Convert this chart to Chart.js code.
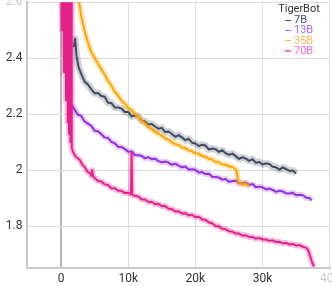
<!DOCTYPE html>
<html>
<head>
<meta charset="utf-8">
<script src="https://cdn.jsdelivr.net/npm/chart.js@4.4.1/dist/chart.umd.min.js"></script>
<style>
  html, body { margin: 0; padding: 0; width: 332px; height: 286px; overflow: hidden; background: #fff; }
  #chart { position: absolute; left: 0; top: -12px; }
  #legend { position: absolute; left: 276px; top: 4px; width: 46px; font: 11px Roboto, sans-serif; line-height: 10.2px; }
  #legend .title { text-align: center; color: #333; margin-bottom: 1px; }
  #legend .item { padding-left: 9px; white-space: nowrap; }
  #legend .dash { display: inline-block; width: 6px; height: 1.5px; vertical-align: middle; margin-right: 3px; }
</style>
</head>
<body>
<canvas id="chart" width="350" height="298"></canvas>
<div id="legend"></div>
<script>
// step / loss pairs
const steps7B = [1900, 2100, 2300, 2600, 3000, 3500, 4000, 4500, 5000, 5500, 6000, 6500, 7000, 7500, 8000, 8500, 9000, 9500,
  10000, 10500, 11000, 11500, 12000, 12500, 13000, 13500, 14000, 14500, 15000, 15500, 16000, 16500, 17000, 17500, 18000, 18500,
  19000, 19500, 20000, 20500, 21000, 21500, 22000, 22500, 23000, 23500, 24000, 24500, 25000, 25500, 26000, 26500, 27000, 27500,
  28000, 28500, 29000, 29500, 30000, 30500, 31000, 31500, 32000, 32500, 33000, 33500, 34000, 34500, 35000];
const loss7B = [2.44, 2.47, 2.41, 2.37, 2.344, 2.317, 2.306, 2.289, 2.275, 2.276, 2.265, 2.262, 2.241, 2.24, 2.224, 2.224, 2.22, 2.208,
  2.208, 2.192, 2.195, 2.192, 2.177, 2.174, 2.163, 2.165, 2.156, 2.148, 2.151, 2.136, 2.138, 2.129, 2.119, 2.125, 2.117, 2.107,
  2.112, 2.098, 2.095, 2.086, 2.091, 2.088, 2.074, 2.077, 2.075, 2.065, 2.071, 2.06, 2.055, 2.059, 2.05, 2.04, 2.046, 2.041,
  2.033, 2.039, 2.026, 2.029, 2.02, 2.024, 2.022, 2.012, 2.01, 2.002, 2.01, 2.004, 1.997, 1.999, 1.988];

const steps13B = [1600, 2000, 2500, 3000, 3500, 4000, 4500, 5000, 5500, 6000, 6500, 7000, 7500, 8000, 8500, 9000, 9500,
  10000, 10500, 11000, 11500, 12000, 12500, 13000, 13500, 14000, 14500, 15000, 15500, 16000, 16500, 17000, 17500, 18000, 18500,
  19000, 19500, 20000, 20500, 21000, 21500, 22000, 22500, 23000, 23500, 24000, 24500, 25000, 25500, 26000, 26500, 27000, 27500,
  28000, 28500, 29000, 29500, 30000, 30500, 31000, 31500, 32000, 32500, 33000, 33500, 34000, 34500, 35000, 35500, 36000, 36500,
  37000, 37300];
const loss13B = [2.235, 2.218, 2.198, 2.194, 2.174, 2.166, 2.158, 2.141, 2.139, 2.128, 2.117, 2.115, 2.101, 2.096, 2.083, 2.083, 2.075,
  2.066, 2.067, 2.054, 2.053, 2.051, 2.042, 2.046, 2.039, 2.041, 2.032, 2.028, 2.031, 2.027, 2.019, 2.023, 2.016, 2.01, 2.013,
  2.002, 2.003, 2.001, 1.991, 1.993, 1.986, 1.987, 1.976, 1.975, 1.974, 1.966, 1.968, 1.958, 1.961, 1.962, 1.953, 1.953, 1.955,
  1.947, 1.95, 1.939, 1.941, 1.938, 1.931, 1.934, 1.929, 1.922, 1.926, 1.924, 1.917, 1.916, 1.919, 1.91, 1.912, 1.91, 1.901,
  1.9, 1.892];

const steps35B = [2500, 2800, 3000, 3500, 4000, 4500, 5000, 5500, 6000, 6500, 7000, 7500, 8000, 8500, 9000, 9500,
  10000, 10500, 11000, 11500, 12000, 12500, 13000, 13500, 14000, 14500, 15000, 15500, 16000, 16500, 17000, 17500, 18000, 18500,
  19000, 19500, 20000, 20500, 21000, 21500, 22000, 22500, 23000, 23500, 24000, 24500, 25000, 25500, 26000, 26200, 26400, 26700,
  27000, 27500, 28000];
const loss35B = [2.63, 2.585, 2.552, 2.498, 2.457, 2.423, 2.402, 2.38, 2.361, 2.342, 2.319, 2.302, 2.28, 2.267, 2.248, 2.238,
  2.222, 2.215, 2.2, 2.191, 2.175, 2.168, 2.153, 2.148, 2.136, 2.131, 2.123, 2.113, 2.109, 2.1, 2.093, 2.09, 2.081, 2.079,
  2.07, 2.068, 2.06, 2.059, 2.05, 2.048, 2.04, 2.038, 2.029, 2.028, 2.02, 2.019, 2.013, 2.011, 2.003, 1.99, 1.955, 1.957,
  1.948, 1.951, 1.943];

const steps70B = [0, 150, 300, 450, 600, 750, 900, 1000, 1100, 1200, 1300, 1400, 1500, 1600, 1800, 2200, 2800, 3200, 3500, 4000,
  4300, 4500, 4650, 4800, 5000, 5500, 6000, 6500, 7000, 7500, 8000, 8500, 9000, 9500, 10000, 10400, 10500, 10600, 11000, 11500,
  12000, 12500, 13000, 13500, 14000, 14500, 15000, 15500, 16000, 16500, 17000, 17500, 18000, 18500, 19000, 19500, 20000, 20500,
  21000, 21500, 22000, 22500, 23000, 23500, 24000, 24500, 25000, 25500, 26000, 26500, 27000, 27500, 28000, 28500, 29000, 29500,
  30000, 30500, 31000, 31500, 32000, 32500, 33000, 33500, 34000, 34500, 35000, 35500, 36000, 36500, 36800, 37100, 37400, 37650];
const loss70B = [2.75, 2.5, 2.75, 2.35, 2.75, 2.25, 2.75, 2.17, 2.75, 2.13, 2.75, 2.1, 2.75, 2.08, 2.064, 2.048, 2.036, 2.018, 2.012, 1.993,
  1.99, 1.98, 2.0, 1.976, 1.972, 1.961, 1.959, 1.949, 1.947, 1.935, 1.935, 1.926, 1.926, 1.918, 1.919, 1.913, 2.06, 1.912, 1.908, 1.906,
  1.895, 1.895, 1.886, 1.887, 1.878, 1.879, 1.871, 1.872, 1.862, 1.861, 1.852, 1.853, 1.845, 1.846, 1.838, 1.84, 1.832, 1.833,
  1.824, 1.822, 1.813, 1.81, 1.8, 1.799, 1.79, 1.789, 1.781, 1.78, 1.773, 1.773, 1.766, 1.767, 1.761, 1.761, 1.755, 1.757,
  1.752, 1.752, 1.747, 1.749, 1.743, 1.744, 1.738, 1.74, 1.734, 1.736, 1.73, 1.732, 1.726, 1.722, 1.713, 1.69, 1.668, 1.655];

const xTicks = [0, 10000, 20000, 30000, 40000];
const yTicks = [1.8, 2, 2.2, 2.4, 2.6];

const legendTitle = 'TigerBot';
const seriesNames = ['7B', '13B', '35B', '70B'];
const seriesSteps = [steps7B, steps13B, steps35B, steps70B];
const seriesLoss = [loss7B, loss13B, loss35B, loss70B];
const lineColors = ['#3e4a5e', '#9030e6', '#ffa400', '#e6208b'];
const bandColors = ['rgba(62,74,94,0.25)', 'rgba(144,48,230,0.22)', 'rgba(255,164,0,0.28)', 'rgba(230,32,139,0.28)'];
const legendColors = ['#3d4c78', '#a56cf5', '#ffb84d', '#f36ad8'];

const datasets = [];
seriesNames.forEach((name, i) => {
  const pts = seriesSteps[i].map((s, j) => ({ x: s, y: seriesLoss[i][j] }));
  const base = 2 * (seriesNames.length - 1 - i);
  datasets.push({ label: name, data: pts, borderColor: lineColors[i], borderWidth: 2, order: base });
  datasets.push({ label: name + ' raw', data: pts, borderColor: bandColors[i], borderWidth: i === 0 ? 7 : 6, order: base + 1 });
});

new Chart(document.getElementById('chart'), {
  type: 'line',
  data: { datasets },
  options: {
    responsive: false,
    animation: false,
    layout: { padding: { top: 14.3, right: 20.2, left: 0, bottom: 0 } },
    elements: { point: { radius: 0 }, line: { tension: 0, borderJoinStyle: 'round' } },
    datasets: { line: { clip: 0 } },
    plugins: { legend: { display: false }, tooltip: { enabled: false } },
    scales: {
      x: {
        type: 'linear', min: -5000, max: 40000,
        afterBuildTicks: s => { s.ticks = xTicks.map(v => ({ value: v })); },
        ticks: {
          padding: 4, maxRotation: 0, autoSkip: false,
          color: c => c.tick && c.tick.value >= 40000 ? '#c8c8c8' : '#333',
          font: { family: 'Roboto', size: 12 },
          callback: v => v === 0 ? '0' : (v / 1000) + 'k'
        },
        grid: {
          drawTicks: false,
          color: c => c.tick && c.tick.value === 0 ? '#b4b4b4' : '#dedede',
          lineWidth: c => c.tick && c.tick.value === 0 ? 2 : 1
        },
        border: { color: '#c8c8c8', width: 2 },
        afterFit: s => { s.height = 18; s.paddingLeft = 0; s.paddingRight = 0; }
      },
      y: {
        min: 1.65, max: 2.6,
        afterBuildTicks: s => { s.ticks = yTicks.map(v => ({ value: v })); },
        ticks: {
          padding: 5,
          color: c => c.tick && c.tick.value > 2.55 ? '#c8c8c8' : '#333',
          font: { family: 'Roboto', size: 12 },
          callback: v => String(Math.round(v * 10) / 10)
        },
        grid: { drawTicks: false, color: '#dedede' },
        border: { color: '#c8c8c8', width: 2 },
        afterFit: s => { s.width = 27.4; s.paddingTop = 0; s.paddingBottom = 0; }
      }
    }
  }
});

const legend = document.getElementById('legend');
legend.innerHTML = '<div class="title">' + legendTitle + '</div>' +
  seriesNames.map((n, i) => '<div class="item" style="color:' + legendColors[i] + '"><span class="dash" style="background:' +
    legendColors[i] + '"></span>' + n + '</div>').join('');
</script>
</body>
</html>
